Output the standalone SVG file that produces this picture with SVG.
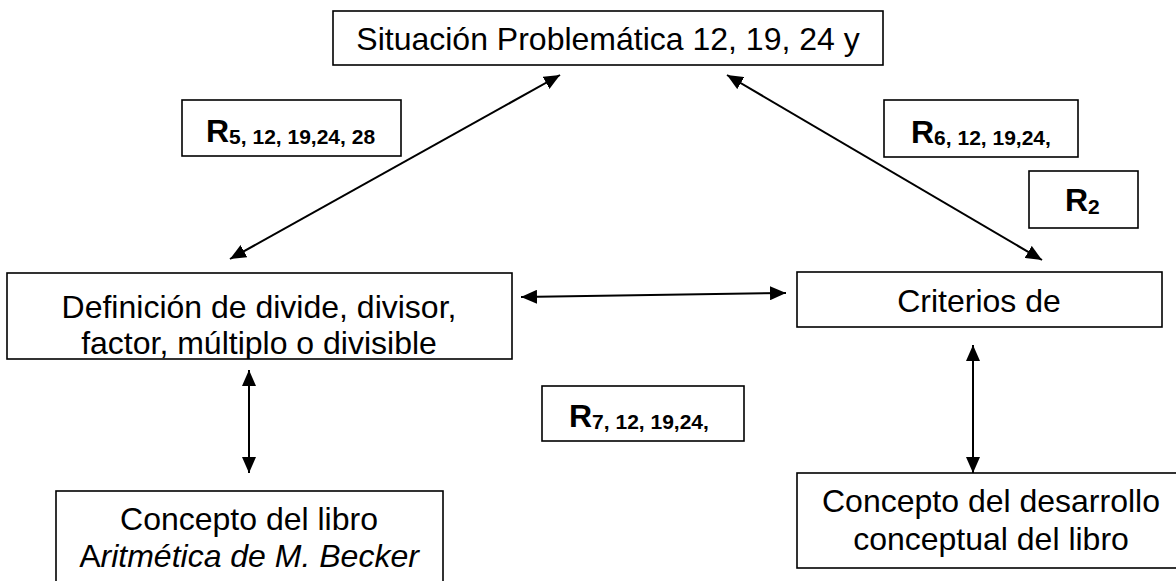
<svg xmlns="http://www.w3.org/2000/svg" width="1176" height="581" viewBox="0 0 1176 581">
<style>
.box{fill:#fff;stroke:#000;stroke-width:1.6}
.t{font-family:"Liberation Sans",Arial,sans-serif;font-size:32px;fill:#000}
.r{font-family:"Liberation Sans",Arial,sans-serif;font-size:32px;font-weight:bold;fill:#000}
.sub{font-size:21px}
.c{stroke:#000;stroke-width:2;fill:none;marker-start:url(#ah);marker-end:url(#ah)}
</style>
<defs>
<marker id="ah" markerUnits="userSpaceOnUse" markerWidth="17" markerHeight="14" refX="16" refY="7" orient="auto-start-reverse" viewBox="0 0 17 14">
<path d="M0,0 L16,7 L0,14 z" fill="#000"/>
</marker>
<clipPath id="cDef"><rect x="7" y="273" width="505" height="86"/></clipPath>
</defs>
<g id="connectors">
<line class="c" x1="230" y1="259" x2="560" y2="75"/>
<line class="c" x1="727" y1="75" x2="1042" y2="260"/>
<line class="c" x1="521" y1="297" x2="786" y2="293"/>
<line class="c" x1="249" y1="370" x2="249" y2="473"/>
<line class="c" x1="973" y1="345" x2="973" y2="473"/>
</g>
<g id="n-situacion">
<rect class="box" x="333" y="11" width="550" height="54"/>
<text class="t" x="608" y="50" text-anchor="middle">Situación Problemática 12, 19, 24 y</text>
</g>
<g id="n-r5">
<rect class="box" x="182" y="100" width="219" height="56"/>
<text class="r" x="206" y="142">R<tspan class="sub" dy="2">5, 12, 19,24, 28</tspan></text>
</g>
<g id="n-r6">
<rect class="box" x="884" y="100" width="194" height="57"/>
<text class="r" x="911" y="143">R<tspan class="sub" dy="2">6, 12, 19,24,</tspan></text>
</g>
<g id="n-r2">
<rect class="box" x="1029" y="171" width="109" height="57"/>
<text class="r" x="1065" y="211">R<tspan class="sub" dy="3">2</tspan></text>
</g>
<g id="n-definicion">
<rect class="box" x="7" y="273" width="505" height="86"/>
<g clip-path="url(#cDef)">
<text class="t" x="259" y="318" text-anchor="middle">Definición de divide, divisor,</text>
<text class="t" x="259" y="354" text-anchor="middle">factor, múltiplo o divisible</text>
</g>
</g>
<g id="n-criterios">
<rect class="box" x="797" y="272" width="365" height="55"/>
<text class="t" x="979" y="312" text-anchor="middle">Criterios de</text>
</g>
<g id="n-r7">
<rect class="box" x="542" y="386" width="202" height="55"/>
<text class="r" x="569" y="427">R<tspan class="sub" dy="2">7, 12, 19,24,</tspan></text>
</g>
<g id="n-libro">
<rect class="box" x="56" y="491" width="387" height="120"/>
<text class="t" x="249" y="530" text-anchor="middle">Concepto del libro</text>
<text class="t" x="249" y="567" text-anchor="middle">A<tspan font-style="italic">ritmética de M. Becker</tspan></text>
</g>
<g id="n-desarrollo">
<rect class="box" x="797" y="473" width="388" height="95"/>
<text class="t" x="991" y="512" text-anchor="middle">Concepto del desarrollo</text>
<text class="t" x="991" y="550" text-anchor="middle">conceptual del libro</text>
</g>
</svg>
